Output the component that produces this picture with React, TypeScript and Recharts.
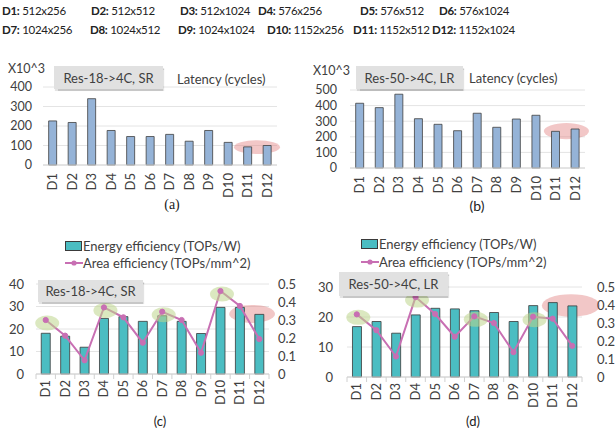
import React from "react";
import {
  BarChart,
  ComposedChart,
  Bar,
  Line,
  XAxis,
  YAxis,
  CartesianGrid,
  ReferenceArea,
  ReferenceDot,
  Legend,
} from "recharts";

const FONT = "Lato, 'Open Sans', sans-serif";
const TEXT = "#404040";
const GRID = "#e4e4e4";
const BLUE = "#95b3d7";
const TEAL = "#4bbdc2";
const PINK = "#c86fb3";
const RED_MARK = "rgba(226, 130, 130, 0.45)";
const GREEN_MARK = "rgba(190, 214, 140, 0.55)";

// datasets
const categories = ["D1", "D2", "D3", "D4", "D5", "D6", "D7", "D8", "D9", "D10", "D11", "D12"];
const datasetSizes = [
  "512x256", "512x512", "512x1024", "576x256", "576x512", "576x1024",
  "1024x256", "1024x512", "1024x1024", "1152x256", "1152x512", "1152x1024",
];

// latency (x10^3 cycles)
const latencyRes18 = [226, 218, 340, 177, 146, 146, 157, 122, 177, 116, 93, 100];
const latencyRes50 = [415, 387, 473, 316, 280, 239, 351, 261, 314, 338, 235, 250];
const latencyTicks18 = [0, 100, 200, 300, 400];
const latencyTicks50 = [0, 100, 200, 300, 400, 500];

// efficiency
const energyRes18 = [18.1, 16.8, 11.9, 24.7, 25.5, 23.4, 25.9, 23.4, 18.0, 29.6, 29.6, 26.5];
const areaRes18 = [0.3, 0.213, 0.076, 0.37, 0.315, 0.174, 0.346, 0.3, 0.118, 0.461, 0.378, 0.194];
const energyRes50 = [16.8, 18.5, 14.6, 20.7, 22.9, 22.7, 22.1, 21.5, 18.5, 23.8, 24.8, 23.7];
const areaRes50 = [0.348, 0.26, 0.114, 0.444, 0.35, 0.224, 0.337, 0.3, 0.138, 0.335, 0.324, 0.173];
const energyTicks18 = [0, 10, 20, 30, 40];
const energyTicks50 = [0, 10, 20, 30];
const areaTicks = [0, 0.1, 0.2, 0.3, 0.4, 0.5];

const seriesNames = ["Energy efficiency (TOPs/W)", "Area efficiency (TOPs/mm^2)"];
const greenPicks = ["D1", "D4", "D7", "D10"];

// header column lefts (px)
const headerLeft = [
  [2, 91, 180, 258, 360, 439],
  [2, 90, 178, 267, 353, 432],
];

const tickStyle = { fontSize: 12.5, fill: TEXT, fontFamily: FONT };

function CategoryTick(props: any) {
  const { x, y, payload, marks, half } = props;
  const h = payload?.offset || half;
  const isLast = payload?.value === categories[categories.length - 1];
  return (
    <g>
      {marks && <line x1={x - h} y1={y} x2={x - h} y2={y + 5} stroke="#d0d0d0" />}
      {marks && isLast && <line x1={x + h} y1={y} x2={x + h} y2={y + 5} stroke="#d0d0d0" />}
      <text
        transform={`translate(${x + 4.5},${y + (marks ? 6 : 8)}) rotate(-90)`}
        textAnchor="end"
        fontSize={13}
        fontFamily={FONT}
        fill={TEXT}
      >
        {payload.value}
      </text>
    </g>
  );
}

const ellipseShape = (fill: string, padL = 0, padR = 0) => (p: any) => {
  const left = p.x - padL;
  const right = p.x + p.width + padR;
  return (
    <ellipse
      cx={(left + right) / 2}
      cy={p.y + p.height / 2}
      rx={(right - left) / 2}
      ry={p.height / 2}
      fill={fill}
    />
  );
};

const greenDot = (p: any) => (
  <ellipse cx={p.cx + 1.5} cy={p.cy + 3} rx={12} ry={7.5} fill={GREEN_MARK} />
);

const grayBox = (left: number, top: number, w: number, h: number): React.CSSProperties => ({
  position: "absolute",
  left,
  top,
  width: w,
  height: h,
  background: "#e1e1e1",
  boxShadow: "1px 1.5px 1px rgba(0,0,0,0.22)",
  fontSize: 13,
  color: TEXT,
  display: "flex",
  alignItems: "center",
  justifyContent: "center",
});

function Header() {
  return (
    <>
      {categories.map((c, i) => (
        <div
          key={c}
          style={{
            position: "absolute",
            left: headerLeft[Math.floor(i / 6)][i % 6],
            top: i < 6 ? 4 : 23,
            fontSize: 11.5,
            letterSpacing: -0.3,
            color: "#222",
            whiteSpace: "nowrap",
          }}
        >
          <b>{c}:</b> {datasetSizes[i]}
        </div>
      ))}
    </>
  );
}

function EffLegend({ payload, rowH }: any) {
  const items = payload && payload.length ? payload : [];
  return (
    <div style={{ fontFamily: FONT, fontSize: 13, color: TEXT }}>
      {seriesNames.map((name, i) => {
        const entry = items.find((e: any) => e.value === name);
        const isBar = i === 0;
        return (
          <div key={name} style={{ display: "flex", alignItems: "center", height: rowH, whiteSpace: "nowrap" }}>
            <svg width={18} height={10}>
              {isBar ? (
                <rect x={0.5} y={0.5} width={16} height={9} fill={entry?.color || TEAL} stroke="#3a3a3a" />
              ) : (
                <>
                  <line x1={0} y1={5} x2={18} y2={5} stroke={PINK} strokeWidth={2} />
                  <circle cx={9} cy={5} r={2.6} fill={PINK} />
                </>
              )}
            </svg>
            <span>{name}</span>
          </div>
        );
      })}
    </div>
  );
}

type LatCfg = {
  left: number;
  width: number;
  values: number[];
  ticks: number[];
  margin: { top: number; right: number; left: number; bottom: number };
  yWidth: number;
  yGap: number;
  xHeight: number;
  red: { y1: number; y2: number; padL: number; padR: number };
  tag: string;
  tagBox: [number, number, number, number];
  unitPos: [number, number];
  titlePos: [number, number];
  caption: string;
  captionX: number;
  captionSerif?: boolean;
};

function LatencyPanel({ cfg }: { cfg: LatCfg }) {
  const rows = categories.map((name, i) => ({ name, latency: cfg.values[i] }));
  return (
    <div style={{ position: "absolute", left: cfg.left, top: 0, width: cfg.width, height: 220 }}>
      <BarChart
        width={cfg.width}
        height={220}
        data={rows}
        margin={cfg.margin}
        barCategoryGap="29%"
      >
        <CartesianGrid vertical={false} stroke={GRID} />
        <XAxis
          dataKey="name"
          interval={0}
          height={cfg.xHeight}
          axisLine={{ stroke: "#d6d6d6" }}
          tickLine={false}
          tickSize={0}
          tickMargin={0}
          tick={<CategoryTick marks={false} half={9.75} />}
        />
        <YAxis
          domain={[0, cfg.ticks[cfg.ticks.length - 1]]}
          ticks={cfg.ticks}
          interval={0}
          width={cfg.yWidth}
          axisLine={false}
          tickLine={false}
          tickSize={0}
          tickMargin={cfg.yGap}
          tick={tickStyle}
        />
        <Bar dataKey="latency" fill={BLUE} stroke="#404040" strokeWidth={0.8} isAnimationActive={false} />
        <ReferenceArea
          x1="D11"
          x2="D12"
          y1={cfg.red.y1}
          y2={cfg.red.y2}
          shape={ellipseShape(RED_MARK, cfg.red.padL, cfg.red.padR)}
        />
      </BarChart>
      <div style={{ position: "absolute", left: cfg.unitPos[0], top: cfg.unitPos[1], fontSize: 12.5, color: TEXT }}>
        X10^3
      </div>
      <div style={grayBox(...cfg.tagBox)}>{cfg.tag}</div>
      <div style={{ position: "absolute", left: cfg.titlePos[0], top: cfg.titlePos[1], fontSize: 13, color: TEXT, whiteSpace: "nowrap" }}>
        Latency (cycles)
      </div>
      <div
        style={{
          position: "absolute",
          left: cfg.captionX - 20,
          width: 40,
          top: 197,
          textAlign: "center",
          fontSize: 14,
          color: "#222",
          fontFamily: cfg.captionSerif ? "'Liberation Serif', 'DejaVu Serif', serif" : FONT,
        }}
      >
        {cfg.caption}
      </div>
    </div>
  );
}

type EffCfg = {
  left: number;
  width: number;
  energy: number[];
  area: number[];
  leftTicks: number[];
  top: number;
  leftWidth: number;
  leftGap: number;
  rightWidth: number;
  rightGap: number;
  xHeight: number;
  half: number;
  gap: string;
  red: { y1: number; y2: number; padL: number; padR: number };
  legendPos: [number, number];
  rowH: number;
  tag: string;
  tagBox: [number, number, number, number];
  caption: string;
  captionX: number;
};

function EfficiencyPanel({ cfg }: { cfg: EffCfg }) {
  const rows = categories.map((name, i) => ({ name, energy: cfg.energy[i], area: cfg.area[i] }));
  return (
    <div style={{ position: "absolute", left: cfg.left, top: 220, width: cfg.width, height: 219 }}>
      <ComposedChart
        width={cfg.width}
        height={219}
        data={rows}
        margin={{ top: cfg.top, right: 0, left: 0, bottom: 0 }}
        barCategoryGap={cfg.gap}
      >
        <CartesianGrid vertical={false} stroke={GRID} yAxisId="left" />
        <XAxis
          dataKey="name"
          interval={0}
          height={cfg.xHeight}
          axisLine={{ stroke: "#d0d0d0" }}
          tickLine={false}
          tickSize={0}
          tickMargin={0}
          tick={<CategoryTick marks half={cfg.half} />}
        />
        <YAxis
          yAxisId="left"
          domain={[0, cfg.leftTicks[cfg.leftTicks.length - 1]]}
          ticks={cfg.leftTicks}
          interval={0}
          width={cfg.leftWidth}
          axisLine={false}
          tickLine={false}
          tickSize={0}
          tickMargin={cfg.leftGap}
          tick={{ ...tickStyle, fontSize: 13 }}
        />
        <YAxis
          yAxisId="right"
          orientation="right"
          domain={[0, 0.5]}
          ticks={areaTicks}
          interval={0}
          width={cfg.rightWidth}
          axisLine={false}
          tickLine={false}
          tickSize={0}
          tickMargin={cfg.rightGap}
          tick={{ ...tickStyle, fontSize: 13 }}
        />
        <Bar
          yAxisId="left"
          dataKey="energy"
          name={seriesNames[0]}
          fill={TEAL}
          stroke="#3a3a3a"
          strokeWidth={0.8}
          isAnimationActive={false}
        />
        <Line
          yAxisId="right"
          dataKey="area"
          name={seriesNames[1]}
          stroke={PINK}
          strokeWidth={2}
          dot={{ r: 2.6, fill: PINK, stroke: PINK, strokeWidth: 1 }}
          isAnimationActive={false}
        />
        {greenPicks.map((c) => (
          <ReferenceDot
            key={c}
            yAxisId="right"
            x={c}
            y={cfg.area[categories.indexOf(c)]}
            shape={greenDot}
          />
        ))}
        <ReferenceArea
          yAxisId="left"
          x1="D11"
          x2="D12"
          y1={cfg.red.y1}
          y2={cfg.red.y2}
          shape={ellipseShape(RED_MARK, cfg.red.padL, cfg.red.padR)}
        />
        <Legend
          layout="vertical"
          align="center"
          verticalAlign="middle"
          wrapperStyle={{ left: cfg.legendPos[0], top: cfg.legendPos[1], width: "auto", height: "auto" }}
          content={(p: any) => <EffLegend payload={p.payload} rowH={cfg.rowH} />}
        />
      </ComposedChart>
      <div style={grayBox(...cfg.tagBox)}>{cfg.tag}</div>
      <div
        style={{
          position: "absolute",
          left: cfg.captionX - 20,
          width: 40,
          top: 193,
          textAlign: "center",
          fontSize: 13,
          color: "#222",
        }}
      >
        {cfg.caption}
      </div>
    </div>
  );
}

const panelA: LatCfg = {
  left: 0,
  width: 300,
  values: latencyRes18,
  ticks: latencyTicks18,
  margin: { top: 87, right: 23, left: 10, bottom: 0 },
  yWidth: 33,
  yGap: 11,
  xHeight: 55,
  red: { y1: 56, y2: 127, padL: 4, padR: 3 },
  tag: "Res-18->4C, SR",
  tagBox: [54, 66, 109, 23],
  unitPos: [8, 61],
  titlePos: [177, 71],
  caption: "(a)",
  captionX: 172,
  captionSerif: true,
};

const panelB: LatCfg = {
  left: 300,
  width: 316,
  values: latencyRes50,
  ticks: latencyTicks50,
  margin: { top: 90, right: 31, left: 10, bottom: 0 },
  yWidth: 40,
  yGap: 13,
  xHeight: 52,
  red: { y1: 185, y2: 288, padL: 2, padR: 4 },
  tag: "Res-50->4C, LR",
  tagBox: [56, 66, 107, 23],
  unitPos: [13, 63],
  titlePos: [169, 70],
  caption: "(b)",
  captionX: 177,
};

const panelC: EffCfg = {
  left: 0,
  width: 310,
  energy: energyRes18,
  area: areaRes18,
  leftTicks: energyTicks18,
  top: 64,
  leftWidth: 36,
  leftGap: 12,
  rightWidth: 41,
  rightGap: 9,
  xHeight: 65,
  half: 9.7,
  gap: "27%",
  red: { y1: 22.7, y2: 30.7, padL: 1, padR: 6 },
  legendPos: [65, 17],
  rowH: 17,
  tag: "Res-18->4C, SR",
  tagBox: [38, 60, 105, 22],
  caption: "(c)",
  captionX: 160,
};

const panelD: EffCfg = {
  left: 300,
  width: 316,
  energy: energyRes50,
  area: areaRes50,
  leftTicks: energyTicks50,
  top: 67,
  leftWidth: 47,
  leftGap: 14,
  rightWidth: 34,
  rightGap: 15,
  xHeight: 62,
  half: 9.8,
  gap: "28%",
  red: { y1: 20.1, y2: 27.6, padL: 1, padR: 18 },
  legendPos: [61, 14.5],
  rowH: 18.5,
  tag: "Res-50->4C, LR",
  tagBox: [39, 52, 109, 24],
  caption: "(d)",
  captionX: 173,
};

export default function App() {
  return (
    <div
      style={{
        position: "fixed",
        left: 0,
        top: 0,
        width: 616,
        height: 439,
        background: "#fff",
        overflow: "hidden",
        fontFamily: FONT,
      }}
    >
      <Header />
      <LatencyPanel cfg={panelA} />
      <LatencyPanel cfg={panelB} />
      <EfficiencyPanel cfg={panelC} />
      <EfficiencyPanel cfg={panelD} />
    </div>
  );
}
